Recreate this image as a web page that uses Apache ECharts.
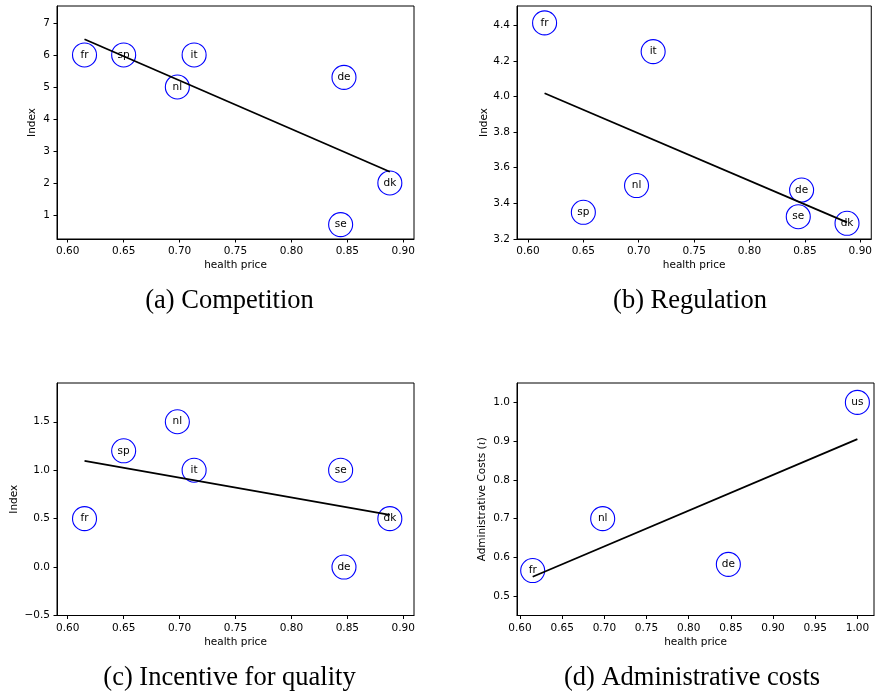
<!DOCTYPE html>
<html><head><meta charset="utf-8">
<script src="https://cdn.jsdelivr.net/npm/echarts@6/dist/echarts.min.js"></script>
<style>html,body{margin:0;padding:0;background:#fff}#c{width:875px;height:694px}</style>
</head><body><div id="c"></div>
<script>
// ---- data ----
const countries7 = ['fr','sp','it','nl','de','dk','se'];
const healthPrice7 = [0.615, 0.650, 0.713, 0.698, 0.847, 0.888, 0.844];
const competition = [6.0, 6.0, 6.0, 5.0, 5.3, 2.0, 0.7];
const regulation = [4.413, 3.35, 4.252, 3.50, 3.475, 3.288, 3.325];
const incentive = [0.5, 1.2, 1.0, 1.5, 0.0, 0.5, 1.0];
const countries4 = ['us','nl','de','fr'];
const healthPrice4 = [1.000, 0.698, 0.847, 0.615];
const adminCosts = [1.0, 0.70, 0.582, 0.566];
const fitX7 = [0.615, 0.888];
const fitCompetition = [6.49, 2.35];
const fitRegulation = [4.018, 3.293];
const fitIncentive = [1.097, 0.539];
const fitX4 = [0.615, 1.000];
const fitAdmin = [0.550, 0.905];
const xTicks7 = [0.60, 0.65, 0.70, 0.75, 0.80, 0.85, 0.90];
const xTicks4 = [0.60, 0.65, 0.70, 0.75, 0.80, 0.85, 0.90, 0.95, 1.00];
const yTicksA = [1, 2, 3, 4, 5, 6, 7];
const yTicksB = [3.2, 3.4, 3.6, 3.8, 4.0, 4.2, 4.4];
const yTicksC = [-0.5, 0.0, 0.5, 1.0, 1.5];
const yTicksD = [0.5, 0.6, 0.7, 0.8, 0.9, 1.0];
const captions = ['(a) Competition', '(b) Regulation', '(c) Incentive for quality', '(d) Administrative costs'];

// ---- layout ----
const grids = [
  {left: 57, top: 6, width: 357, height: 233},
  {left: 517, top: 6, width: 357, height: 233},
  {left: 57, top: 383, width: 357, height: 232.5},
  {left: 517, top: 383, width: 357, height: 232.5}
];
const xr = [[0.5904, 0.9096], [0.5901, 0.9099], [0.5904, 0.9096], [0.5964, 1.0197]];
const yr = [[0.25, 7.53], [3.2, 4.508], [-0.5, 1.9], [0.45, 1.05]];
const xt = [xTicks7, xTicks7, xTicks7, xTicks4];
const yt = [yTicksA, yTicksB, yTicksC, yTicksD];
const ydec = [0, 1, 1, 1];
const yNames = ['Index', 'Index', 'Index', 'Administrative Costs ({i|ι})'];
const yGaps = [19, 27, 37, 29];
const FONT = 'DejaVu Sans';
const FS = 10.5;
const fmt = (v, d) => { const s = Number(v).toFixed(d); return s.startsWith('-') ? '\u2212' + s.slice(1) : s; };

const xAxis = grids.map((g, i) => ({
  type: 'value', gridIndex: i, min: xr[i][0], max: xr[i][1],
  splitLine: {show: false},
  axisLine: {show: true, onZero: false, lineStyle: {color: '#000', width: 1}},
  axisTick: {show: true, length: 3.5, customValues: xt[i], lineStyle: {color: '#000'}},
  axisLabel: {customValues: xt[i], formatter: v => fmt(v, 2), color: '#000', fontFamily: FONT, fontSize: FS, margin: 7},
  name: 'health price', nameLocation: 'middle', nameGap: 21,
  nameTextStyle: {color: '#000', fontFamily: FONT, fontSize: FS}
}));
const yAxis = grids.map((g, i) => ({
  type: 'value', gridIndex: i, min: yr[i][0], max: yr[i][1],
  splitLine: {show: false},
  axisLine: {show: true, onZero: false, lineStyle: {color: '#000', width: 1}},
  axisTick: {show: true, length: 3.5, customValues: yt[i], lineStyle: {color: '#000'}},
  axisLabel: {customValues: yt[i], formatter: v => fmt(v, ydec[i]), color: '#000', fontFamily: FONT, fontSize: FS, margin: 7},
  name: yNames[i], nameLocation: 'middle', nameGap: yGaps[i], nameRotate: 90,
  nameTextStyle: {color: '#000', fontFamily: FONT, fontSize: FS, rich: {i: {fontStyle: 'italic', fontFamily: 'DejaVu Serif', fontSize: FS, color: '#000'}}}
}));

function scatter(i, xs, ys, names) {
  return {
    type: 'scatter', xAxisIndex: i, yAxisIndex: i,
    data: xs.map((x, k) => ({value: [x, ys[k]], name: names[k]})),
    symbol: 'circle', symbolSize: 24,
    itemStyle: {color: 'rgba(255,255,255,0)', borderColor: '#0000ff', borderWidth: 1.1, opacity: 1},
    label: {show: true, position: 'inside', formatter: p => p.name, color: '#000', fontFamily: FONT, fontSize: FS},
    emphasis: {disabled: true}, silent: true, z: 2
  };
}
function fit(i, xs, ys) {
  return {
    type: 'line', xAxisIndex: i, yAxisIndex: i,
    data: xs.map((x, k) => [x, ys[k]]),
    symbol: 'none', lineStyle: {color: '#000', width: 1.8}, silent: true, z: 3
  };
}
const capPos = [[229.5, 301], [690, 301], [229.5, 678], [692, 678]];
const chart = echarts.init(document.getElementById('c'), null, {renderer: 'canvas'});
chart.setOption({
  animation: false,
  backgroundColor: '#fff',
  grid: grids.map(g => Object.assign({show: true, borderColor: '#000', borderWidth: 1, backgroundColor: 'transparent'}, g)),
  xAxis, yAxis,
  series: [
    scatter(0, healthPrice7, competition, countries7), fit(0, fitX7, fitCompetition),
    scatter(1, healthPrice7, regulation, countries7), fit(1, fitX7, fitRegulation),
    scatter(2, healthPrice7, incentive, countries7), fit(2, fitX7, fitIncentive),
    scatter(3, healthPrice4, adminCosts, countries4), fit(3, fitX4, fitAdmin)
  ],
  graphic: captions.map((t, i) => ({
    type: 'text', x: capPos[i][0], y: capPos[i][1],
    style: {text: t, fontFamily: 'Liberation Serif', fontSize: 26.5, fill: '#000', align: 'center', verticalAlign: 'middle'}
  }))
});
</script></body></html>
